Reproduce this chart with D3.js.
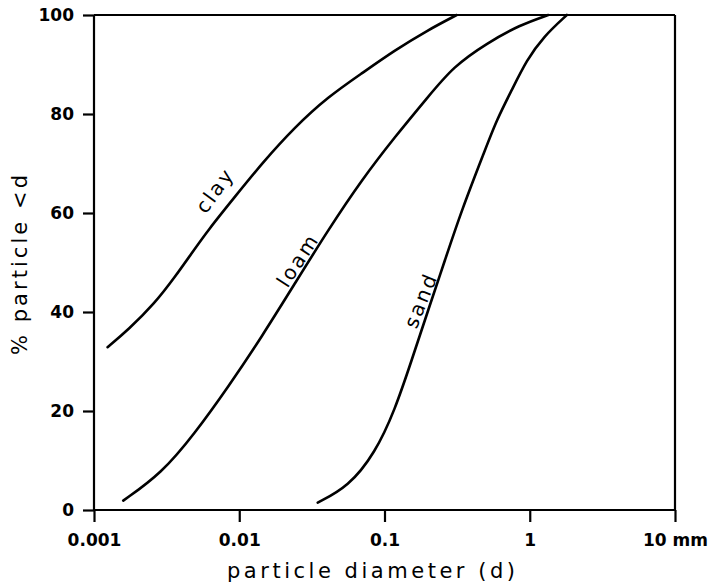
<!DOCTYPE html>
<html>
<head>
<meta charset="utf-8">
<script src="https://cdn.jsdelivr.net/npm/d3@7"></script>
<style>
  html, body { margin: 0; padding: 0; background: #fff; }
  svg { display: block; }
</style>
</head>
<body>
<svg id="chart" width="708" height="584"></svg>
<script>
// Cumulative particle-size distributions: diameter (mm) vs % of particles finer than d
const clayDiameter = [0.00124, 0.00172, 0.00263, 0.00361, 0.00471, 0.00612, 0.00935, 0.0143, 0.0242, 0.0410, 0.0697, 0.118, 0.200, 0.314];
const clayPercent  = [32.9, 36.4, 41.8, 47.1, 51.9, 56.6, 63.3, 70.0, 77.4, 83.5, 88.2, 92.9, 97.0, 100];

const loamDiameter = [0.00159, 0.00292, 0.00495, 0.00841, 0.0143, 0.0242, 0.0410, 0.0697, 0.118, 0.200, 0.298, 0.506, 0.857, 1.34];
const loamPercent  = [1.9, 7.4, 15.5, 24.9, 35.0, 45.8, 56.6, 66.7, 75.4, 83.5, 89.6, 94.3, 98.0, 100];

const sandDiameter = [0.0347, 0.0564, 0.0861, 0.118, 0.154, 0.200, 0.261, 0.340, 0.492, 0.592, 0.751, 0.953, 1.24, 1.80];
const sandPercent  = [1.5, 4.7, 11.5, 20.2, 30.3, 40.4, 50.5, 60.6, 72.7, 78.8, 84.8, 90.9, 95.6, 100];

const xTickValues = [0.001, 0.01, 0.1, 1, 10];
const xTickLabels = ["0.001", "0.01", "0.1", "1", "10 mm"];
const yTickValues = [0, 20, 40, 60, 80, 100];

const seriesNames = ["clay", "loam", "sand"];
// where each curve's name sits (diameter, percent) and its slant
const labelDiameter = [0.0068, 0.0253, 0.178];
const labelPercent  = [64.6, 50.5, 42.4];
const labelAngle    = [-54, -57, -68];

const xTitle = "particle diameter (d)";
const yTitle = "% particle <d";

const svg = d3.select("#chart");
const plotLeft = 94, plotRight = 675, plotTop = 15, plotBottom = 510;

const x = d3.scaleLog().domain([0.001, 10]).range([plotLeft, plotRight]);
const y = d3.scaleLinear().domain([0, 100]).range([plotBottom, plotTop]);

const tickFont = "'DejaVu Sans', sans-serif";

// y axis
const yAxis = svg.append("g")
  .attr("transform", `translate(${plotLeft},0)`)
  .call(d3.axisLeft(y).tickValues(yTickValues).tickSize(11).tickSizeOuter(0).tickPadding(9).tickFormat(d3.format("d")));

// x axis
const xAxis = svg.append("g")
  .attr("transform", `translate(0,${plotBottom})`)
  .call(d3.axisBottom(x).tickValues(xTickValues).tickSize(12).tickSizeOuter(0).tickPadding(9)
    .tickFormat((d, i) => xTickLabels[i]));

[yAxis, xAxis].forEach(g => {
  g.select(".domain").attr("stroke", "#000").attr("stroke-width", 2.2);
  g.selectAll(".tick line").attr("stroke", "#000").attr("stroke-width", 2.2);
  g.selectAll(".tick text")
    .attr("fill", "#000")
    .style("font-family", tickFont)
    .style("font-weight", "bold")
    .style("font-size", "17px");
});
xAxis.selectAll(".tick text").attr("dy", "0.9em");

// extend axis lines so the frame corners join
yAxis.select(".domain").attr("d", `M0,${plotBottom}V${plotTop}`);
xAxis.select(".domain").attr("d", `M${plotLeft},0H${plotRight}`);

// top and right frame edges
svg.append("line")
  .attr("x1", plotLeft).attr("x2", plotRight).attr("y1", y(100)).attr("y2", y(100))
  .attr("stroke", "#000").attr("stroke-width", 2.2);
svg.append("line")
  .attr("x1", x(10)).attr("x2", x(10)).attr("y1", plotTop).attr("y2", plotBottom)
  .attr("stroke", "#000").attr("stroke-width", 2.2);

// distribution curves
const line = d3.line()
  .x(d => x(d[0]))
  .y(d => y(d[1]))
  .curve(d3.curveBasis);

const series = [
  d3.zip(clayDiameter, clayPercent),
  d3.zip(loamDiameter, loamPercent),
  d3.zip(sandDiameter, sandPercent)
];

svg.append("g").selectAll("path")
  .data(series)
  .join("path")
  .attr("d", line)
  .attr("fill", "none")
  .attr("stroke", "#000")
  .attr("stroke-width", 2.6)
  .attr("stroke-linecap", "round");

// curve names
svg.append("g").selectAll("text")
  .data(seriesNames)
  .join("text")
  .attr("transform", (d, i) => `translate(${x(labelDiameter[i])},${y(labelPercent[i])}) rotate(${labelAngle[i]})`)
  .attr("text-anchor", "middle")
  .attr("dy", "0.35em")
  .style("font-family", "'DejaVu Sans', sans-serif")
  .style("font-size", "20px")
  .style("letter-spacing", "2.5px")
  .attr("fill", "#000")
  .text(d => d);

// axis titles
svg.append("text")
  .attr("x", 371).attr("y", 578)
  .attr("text-anchor", "middle")
  .attr("textLength", 288)
  .attr("lengthAdjust", "spacing")
  .style("font-family", "'DejaVu Sans', sans-serif")
  .style("font-size", "21px")
  .attr("fill", "#000")
  .text(xTitle);

svg.append("text")
  .attr("transform", "translate(27,265) rotate(-90)")
  .attr("text-anchor", "middle")
  .attr("textLength", 180)
  .attr("lengthAdjust", "spacing")
  .style("font-family", "'DejaVu Sans', sans-serif")
  .style("font-size", "21px")
  .attr("fill", "#000")
  .text(yTitle);
</script>
</body>
</html>
